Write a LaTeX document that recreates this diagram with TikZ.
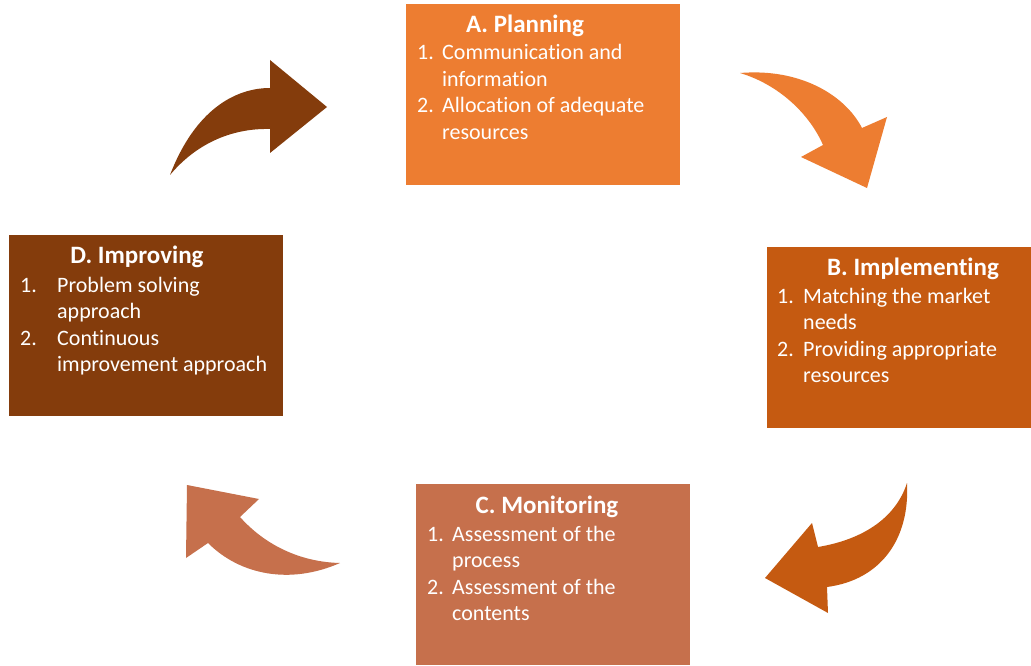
\documentclass[tikz,border=0pt]{standalone}
\usepackage{fontspec}
\setmainfont{Carlito}[Ligatures=NoCommon]
\usepackage{array}
\definecolor{cA}{HTML}{ED7D31}
\definecolor{cB}{HTML}{C55A11}
\definecolor{cC}{HTML}{C6704C}
\definecolor{cD}{HTML}{843C0C}
\tikzset{
  box/.style={draw=none, inner sep=0pt, anchor=north west, minimum width=274pt, minimum height=181pt},
  ttl/.style={anchor=base, inner sep=0pt, text=white, font=\fontsize{25}{30}\selectfont\bfseries},
  lst/.style={anchor=base west, inner sep=0pt, text=white, font=\fontsize{22}{26.5}\selectfont},
}
\begin{document}
\begin{tikzpicture}[x=1pt,y=-1pt]
\useasboundingbox (0,0) rectangle (1031,666);
\fill[white] (0,0) rectangle (1031,666);
% boxes
\node[box, fill=cA] (A) at (406,4) {};
\node[box, fill=cB, minimum width=264pt, minimum height=181pt] (B) at (767,247) {};
\node[box, fill=cC, minimum height=181pt] (C) at (416,484) {};
\node[box, fill=cD] (D) at (9,235) {};
% titles
\node[ttl] (At) at (525,33) {A. Planning};
\node[ttl] (Bt) at (913,275) {B. Implementing};
\node[ttl] (Ct) at (547,513) {C. Monitoring};
\node[ttl] (Dt) at (137,263) {D. Improving};
% lists
\node[lst] (Al) at (417,60) {\begin{tabular}[t]{@{}p{25pt}@{}l@{}}1. & Communication and\\ & information\\ 2. & Allocation of adequate\\ & resources\end{tabular}};
\node[lst] (Bl) at (777,303) {\begin{tabular}[t]{@{}p{26pt}@{}l@{}}1. & Matching the market\\ & needs\\ 2. & Providing appropriate\\ & resources\end{tabular}};
\node[lst] (Cl) at (427,541) {\begin{tabular}[t]{@{}p{25pt}@{}l@{}}1. & Assessment of the\\ & process\\ 2. & Assessment of the\\ & contents\end{tabular}};
\node[lst] (Dl) at (20,292) {\begin{tabular}[t]{@{}p{37pt}@{}l@{}}1. & Problem solving\\ & approach\\ 2. & Continuous\\ & improvement approach\end{tabular}};
% curved arrows
\fill[cD] (170,175) .. controls (195,110) and (235,88) .. (270,88)
  -- (270,60) -- (327,107) -- (270,153) -- (270,129)
  .. controls (230,128) and (195,145) .. (170,175) -- cycle;
\fill[cA] (740,73) .. controls (800,68) and (845,95) .. (862,128)
  -- (887,117) -- (867,188) -- (801,157) -- (823,145)
  .. controls (810,115) and (780,85) .. (740,73) -- cycle;
\fill[cB] (907,483) .. controls (910,540) and (880,580) .. (827,587)
  -- (828,613) -- (765,578) -- (812,523) -- (818,547)
  .. controls (860,540) and (895,520) .. (907,483) -- cycle;
\fill[cC] (340,563) .. controls (290,585) and (240,575) .. (208,543)
  -- (186,558) -- (187,485) -- (259,499) -- (240,517)
  .. controls (265,545) and (300,562) .. (340,563) -- cycle;
\end{tikzpicture}
\end{document}
